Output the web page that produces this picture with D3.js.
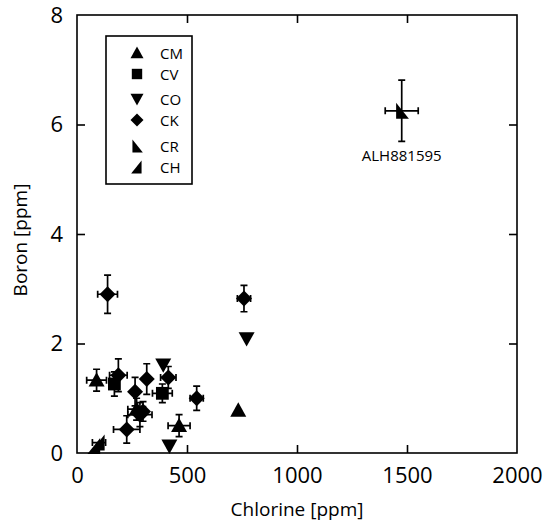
<!DOCTYPE html>
<html>
<head>
<meta charset="utf-8">
<script src="https://cdn.jsdelivr.net/npm/d3@7"></script>
<style>
  body { margin: 0; background: #fff; }
  text { font-family: "Open Sans", "DejaVu Sans", sans-serif; fill: #000; }
</style>
</head>
<body>
<div id="chart"></div>
<script>
// groups shown in the legend
var groups = ['CM', 'CV', 'CO', 'CK', 'CR', 'CH'];

// one entry per measured point: group, chlorine, boron, chlorine error, boron error
var pointGroup = ['CM', 'CV', 'CK', 'CK', 'CO', 'CK', 'CK', 'CV', 'CK', 'CM', 'CK', 'CK', 'CK', 'CM', 'CH', 'CH', 'CO', 'CK', 'CK', 'CO', 'CM', 'CR'];
var chlorine   = [89,   170,  188,  317,  392,  415,  264,  388,  544,  271,  286,  300,  226,  464,  80,   100,  420,  139,  759,  771,  733,  1476];
var boron      = [1.33, 1.26, 1.42, 1.35, 1.61, 1.38, 1.12, 1.09, 1.0,  0.8,  0.7,  0.76, 0.43, 0.5,  0.13, 0.19, 0.13, 2.9,  2.82, 2.09, 0.78, 6.25];
var chlorErr   = [45,   0,    40,   0,    0,    35,   0,    45,   30,   40,   55,   0,    60,   50,   0,    30,   0,    45,   30,   0,    0,    75];
var boronErr   = [0.2,  0.22, 0.3,  0.28, 0,    0.2,  0.26, 0.17, 0.22, 0.2,  0.22, 0.18, 0.25, 0.2,  0,    0,    0,    0.35, 0.24, 0,    0,    0.56];

var xTicks = [0, 500, 1000, 1500, 2000];
var yTicks = [0, 2, 4, 6, 8];

var w = 546, h = 525,
  pLeft = 77, pRight = 517, pTop = 15, pBottom = 453;

var x = d3.scaleLinear().domain([0, 2000]).range([pLeft, pRight]);
var y = d3.scaleLinear().domain([0, 8]).range([pBottom, pTop]);

var svg = d3.select('#chart').append('svg')
  .attr('width', w).attr('height', h);

// marker shapes, s = half size
function shape(g, s) {
  if (g == 'CM') return 'M0,' + (-s) + 'L' + s + ',' + (s * 0.8) + 'L' + (-s) + ',' + (s * 0.8) + 'Z';
  if (g == 'CO') return 'M0,' + s + 'L' + s + ',' + (-s * 0.8) + 'L' + (-s) + ',' + (-s * 0.8) + 'Z';
  if (g == 'CV') { var q = s * 0.8; return 'M' + (-q) + ',' + (-q) + 'H' + q + 'V' + q + 'H' + (-q) + 'Z'; }
  if (g == 'CK') return 'M0,' + (-s) + 'L' + s + ',0L0,' + s + 'L' + (-s) + ',0Z';
  if (g == 'CR') return 'M' + (-s * 0.7) + ',' + (-s) + 'L' + (s * 0.9) + ',' + s + 'L' + (-s * 0.7) + ',' + s + 'Z';
  if (g == 'CH') return 'M' + (s * 0.7) + ',' + (-s) + 'L' + (-s * 0.9) + ',' + s + 'L' + (s * 0.7) + ',' + s + 'Z';
}

// frame
svg.append('rect')
  .attr('x', pLeft).attr('y', pTop)
  .attr('width', pRight - pLeft).attr('height', pBottom - pTop)
  .attr('fill', 'none').attr('stroke', '#000').attr('stroke-width', 1.6);

// inward ticks on all four sides
var axisB = d3.axisBottom(x).tickValues(xTicks).tickSize(-8).tickPadding(14).tickFormat(d3.format('d'));
var axisT = d3.axisTop(x).tickValues(xTicks.slice(1, -1)).tickSize(-8).tickFormat('');
var axisL = d3.axisLeft(y).tickValues(yTicks).tickSize(-8).tickPadding(14).tickFormat(d3.format('d'));
var axisR = d3.axisRight(y).tickValues(yTicks.slice(1, -1)).tickSize(-8).tickFormat('');

function styleAxis(g) {
  g.select('.domain').remove();
  g.selectAll('line').attr('stroke', '#000').attr('stroke-width', 1.6);
  g.selectAll('text').style('font-size', '22px').attr('fill', '#000');
}

svg.append('g').attr('transform', 'translate(0,' + pBottom + ')').call(axisB).call(styleAxis);
svg.append('g').attr('transform', 'translate(0,' + pTop + ')').call(axisT).call(styleAxis);
svg.append('g').attr('transform', 'translate(' + pLeft + ',0)').call(axisL).call(styleAxis);
svg.append('g').attr('transform', 'translate(' + pRight + ',0)').call(axisR).call(styleAxis);

svg.selectAll('.tick line').filter(function(d) { return d == 0 || d == 2000 || d == 8; }).remove();

// axis titles
svg.append('text')
  .attr('x', (pLeft + pRight) / 2).attr('y', 516)
  .attr('text-anchor', 'middle').style('font-size', '19px')
  .text('Chlorine [ppm]');
svg.append('text')
  .attr('transform', 'translate(27,240) rotate(-90)')
  .attr('text-anchor', 'middle').style('font-size', '19px')
  .text('Boron [ppm]');

// points with error bars
var pts = chlorine.map(function(c, i) {
  return {g: pointGroup[i], x: c, y: boron[i], ex: chlorErr[i], ey: boronErr[i]};
});

var cap = 3.5;
var eb = svg.append('g').attr('stroke', '#000').attr('stroke-width', 1.7).attr('fill', 'none');
pts.forEach(function(d) {
  var cx = x(d.x), cy = y(d.y);
  if (d.ex > 0) {
    var x0 = x(d.x - d.ex), x1 = x(d.x + d.ex);
    eb.append('path').attr('d', 'M' + x0 + ',' + cy + 'H' + x1 +
      'M' + x0 + ',' + (cy - cap) + 'V' + (cy + cap) +
      'M' + x1 + ',' + (cy - cap) + 'V' + (cy + cap));
  }
  if (d.ey > 0) {
    var y0 = y(d.y - d.ey), y1 = y(d.y + d.ey);
    eb.append('path').attr('d', 'M' + cx + ',' + y0 + 'V' + y1 +
      'M' + (cx - cap) + ',' + y0 + 'H' + (cx + cap) +
      'M' + (cx - cap) + ',' + y1 + 'H' + (cx + cap));
  }
});

svg.append('g').selectAll('path.pt')
  .data(pts).enter().append('path')
  .attr('class', 'pt')
  .attr('transform', function(d) { return 'translate(' + x(d.x) + ',' + y(d.y) + ')'; })
  .attr('d', function(d) { return shape(d.g, 8); })
  .attr('fill', '#000');

// label for the outlier
svg.append('text')
  .attr('x', x(1476)).attr('y', 161)
  .attr('text-anchor', 'middle').style('font-size', '15px')
  .text('ALH881595');

// legend
var lg = svg.append('g');
lg.append('rect')
  .attr('x', 106).attr('y', 36).attr('width', 86).attr('height', 148)
  .attr('fill', '#fff').attr('stroke', '#000').attr('stroke-width', 1.6);
var legendY = [53, 74, 99, 120, 146, 167];
groups.forEach(function(g, i) {
  lg.append('path')
    .attr('transform', 'translate(137,' + legendY[i] + ')')
    .attr('d', shape(g, 6.5)).attr('fill', '#000');
  lg.append('text')
    .attr('x', 160).attr('y', legendY[i] + 5.5)
    .style('font-size', '15px')
    .text(g);
});
</script>
</body>
</html>
